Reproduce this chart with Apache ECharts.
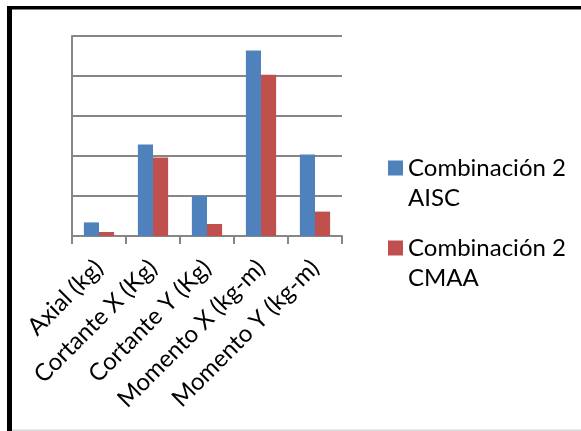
<!DOCTYPE html>
<html><head><meta charset="utf-8">
<script src="https://cdn.jsdelivr.net/npm/echarts@6/dist/echarts.min.js"></script>
<style>html,body{margin:0;padding:0;background:#fff}#c{width:581px;height:431px}</style>
</head><body><div id="c"></div>
<script>
const categories = ['Axial (kg)', 'Cortante X (Kg)', 'Cortante Y (Kg)', 'Momento X (kg-m)', 'Momento Y (kg-m)'];
const aisc = [0.34, 2.29, 1.0, 4.64, 2.04];
const cmaa = [0.1, 1.96, 0.3, 4.03, 0.61];
const seriesNames = ['Combinación 2 AISC', 'Combinación 2 CMAA'];
const FONT = 'Lato';
const chart = echarts.init(document.getElementById('c'), null, {renderer: 'canvas'});
const legendText = {fontFamily: FONT, fontSize: 24, color: '#000', lineHeight: 30};
const fmt = n => ' \n' + n.replace(' 2 ', ' 2\n');
chart.setOption({
  animation: false,
  backgroundColor: '#fff',
  color: ['#4F81BD', '#C0504D'],
  grid: {left: 72, right: 239, top: 36, bottom: 195, containLabel: false},
  legend: [
    {data: [seriesNames[0]], orient: 'vertical', left: 383, top: 118, icon: 'rect', itemWidth: 15, itemHeight: 15, itemGap: 0,
     formatter: fmt, textStyle: legendText},
    {data: [seriesNames[1]], orient: 'vertical', left: 383, top: 198, icon: 'rect', itemWidth: 15, itemHeight: 15, itemGap: 0,
     formatter: fmt, textStyle: legendText}
  ],
  xAxis: {
    type: 'category', data: categories,
    axisLine: {lineStyle: {color: '#868686', width: 2}},
    axisTick: {show: true, length: 8, lineStyle: {color: '#868686', width: 2}},
    axisLabel: {rotate: 45, interval: 0, margin: 28, fontFamily: FONT, fontSize: 24, color: '#000'}
  },
  yAxis: {
    type: 'value', min: 0, max: 5, interval: 1,
    axisLine: {show: true, lineStyle: {color: '#868686', width: 2}},
    axisTick: {show: false}, axisLabel: {show: false},
    splitLine: {lineStyle: {color: '#868686', width: 2}}
  },
  series: [
    {name: seriesNames[0], type: 'bar', data: aisc, barGap: '0%', barCategoryGap: '44%'},
    {name: seriesNames[1], type: 'bar', data: cmaa, barGap: '0%', barCategoryGap: '44%'}
  ],
  graphic: [
    {type: 'rect', shape: {x: 7, y: 6, width: 5, height: 425}, style: {fill: '#000'}, silent: true},
    {type: 'rect', shape: {x: 7, y: 6, width: 574, height: 3.5}, style: {fill: '#000'}, silent: true},
    {type: 'rect', shape: {x: 12, y: 429.5, width: 569, height: 1.5}, style: {fill: '#d9d9d9'}, silent: true}
  ]
});
</script></body></html>
